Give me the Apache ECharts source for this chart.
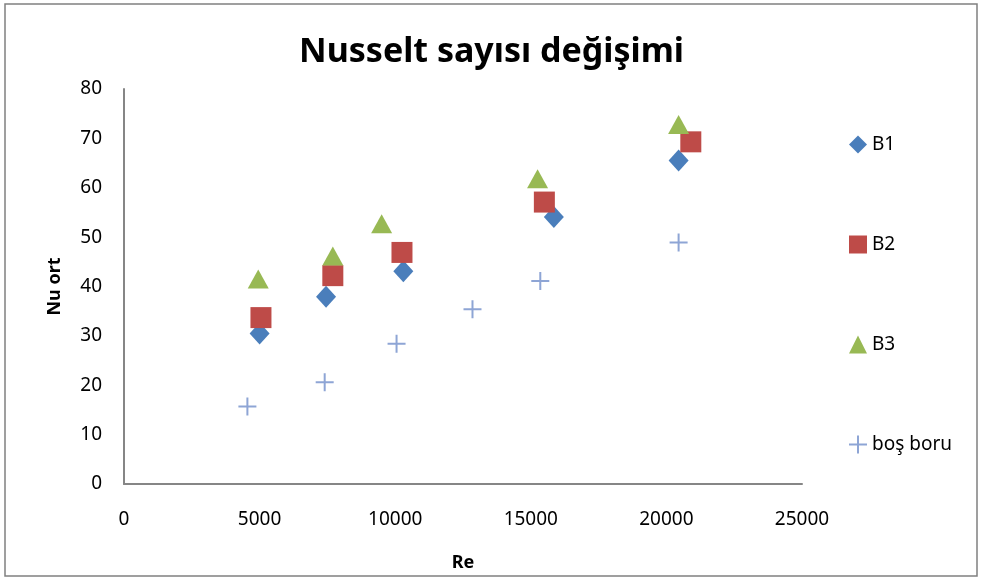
<!DOCTYPE html>
<html lang="en">
<head>
    <meta charset="UTF-8">
    <title>Nusselt sayısı değişimi</title>
    <script src="https://cdn.jsdelivr.net/npm/echarts@6.0.0/dist/echarts.min.js"></script>
    <style>
        html, body { margin: 0; padding: 0; background: #fff; }
        #main { width: 983px; height: 581px; }
    </style>
</head>
<body>
    <div id="main"></div>
    <script>
        // data: [Re, Nu ort]
        var b1 = [[5000, 30.5], [7450, 37.9], [10300, 43.1], [15850, 54.1], [20450, 65.5]];
        var b2 = [[5050, 33.7], [7700, 42.2], [10250, 46.9], [15500, 57.1], [20900, 69.3]];
        var b3 = [[4950, 41.5], [7700, 46.2], [9500, 52.7], [15250, 61.8], [20450, 72.8]];
        var bosBoru = [[4550, 15.7], [7400, 20.6], [10050, 28.4], [12850, 35.4], [15350, 41.1], [20450, 48.9]];
        var seriesNames = ['B1', 'B2', 'B3', 'boş boru'];

        var font = 'Noto Sans';
        var plus = 'path://M8,0H10V8H18V10H10V18H8V10H0V8H8Z';

        var chart = echarts.init(document.getElementById('main'));

        var option = {
            animation: false,
            graphic: [{
                type: 'rect',
                shape: { x: 5, y: 4, width: 972, height: 572 },
                style: { fill: 'none', stroke: '#808080', lineWidth: 1.5 }
            }],
            title: {
                text: 'Nusselt sayısı değişimi',
                left: 'center',
                top: 30,
                textStyle: { fontFamily: font, fontSize: 34, fontWeight: 'bold', color: '#000' }
            },
            legend: {
                data: seriesNames,
                orient: 'vertical',
                left: 844,
                top: 130,
                itemGap: 81,
                itemWidth: 18,
                itemHeight: 18,
                textStyle: { fontFamily: font, fontSize: 19, color: '#000' }
            },
            grid: { left: 124, right: 181, top: 89, bottom: 97 },
            xAxis: {
                type: 'value',
                min: 0, max: 25000, interval: 5000,
                name: 'Re',
                nameLocation: 'middle',
                nameGap: 70,
                nameTextStyle: { fontFamily: font, fontSize: 18, fontWeight: 'bold', color: '#000' },
                axisLine: { lineStyle: { color: '#868686', width: 2 } },
                axisTick: { show: false },
                splitLine: { show: false },
                axisLabel: { fontFamily: font, fontSize: 19, color: '#000', margin: 26,
                    formatter: function (v) { return String(v); } }
            },
            yAxis: {
                type: 'value',
                min: 0, max: 80, interval: 10,
                name: 'Nu ort',
                nameLocation: 'middle',
                nameGap: 60,
                nameTextStyle: { fontFamily: font, fontSize: 18, fontWeight: 'bold', color: '#000' },
                axisLine: { show: true, lineStyle: { color: '#868686', width: 2 } },
                axisTick: { show: false },
                splitLine: { show: false },
                axisLabel: { fontFamily: font, fontSize: 19, color: '#000', margin: 22 }
            },
            series: [
                { name: 'B1', type: 'scatter', data: b1, symbol: 'diamond', symbolSize: [20, 22],
                  itemStyle: { color: '#4A7EBB', opacity: 1 } },
                { name: 'B2', type: 'scatter', data: b2, symbol: 'rect', symbolSize: [21, 21],
                  itemStyle: { color: '#BE4B48', opacity: 1 } },
                { name: 'B3', type: 'scatter', data: b3, symbol: 'triangle', symbolSize: [21, 19],
                  itemStyle: { color: '#98B954', opacity: 1 } },
                { name: 'boş boru', type: 'scatter', data: bosBoru, symbol: plus, symbolSize: 18,
                  itemStyle: { color: '#8EA5D5', opacity: 1 } }
            ]
        };

        chart.setOption(option);
    </script>
</body>
</html>
